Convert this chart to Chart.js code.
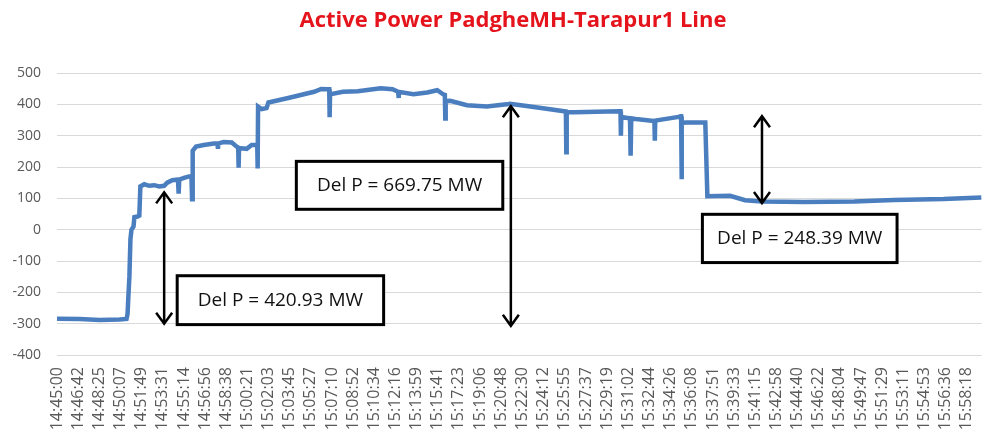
<!DOCTYPE html>
<html>
<head>
<meta charset="utf-8">
<script src="https://cdn.jsdelivr.net/npm/chart.js@4.4.1/dist/chart.umd.min.js"></script>
<style>
  html, body { margin: 0; padding: 0; background: #fff; }
  #wrap { width: 990px; height: 435px; }
</style>
</head>
<body>
<div id="wrap"><canvas id="myChart"></canvas></div>
<script>
// x axis tick labels (Excel category labels)
var tickLabels = ['14:45:00','14:46:42','14:48:25','14:50:07','14:51:49','14:53:31','14:55:14','14:56:56',
  '14:58:38','15:00:21','15:02:03','15:03:45','15:05:27','15:07:10','15:08:52','15:10:34','15:12:16',
  '15:13:59','15:15:41','15:17:23','15:19:06','15:20:48','15:22:30','15:24:12','15:25:55','15:27:37',
  '15:29:19','15:31:02','15:32:44','15:34:26','15:36:08','15:37:51','15:39:33','15:41:15','15:42:58',
  '15:44:40','15:46:22','15:48:04','15:49:47','15:51:29','15:53:11','15:54:53','15:56:36','15:58:18'];

// seconds after 14:45:00
var timeSec = [0,110,206,302,336,341,346,350,355,360,370,374,389,398,401,403,422,446,470,494,518,533,557,
  585,588,591,614,638,650,653,656,672,710,758,776,778,780,806,845,869,876,878,880,888,917,941,968,970,972,
  989,1013,1022,1118,1243,1277,1310,1316,1318,1320,1382,1454,1565,1622,1649,1651,1653,1723,1790,1838,1867,
  1875,1877,1879,1901,1982,2078,2174,2189,2270,2366,2460,2462,2464,2501,2717,2724,2726,2728,2770,2772,2774,
  2776,2798,2885,2888,2890,2892,3005,3014,3017,3019,3021,3038,3134,3144,3254,3326,3408,3614,3854,4046,4286,4469];

// active power, MW
var powerMW = [-284,-285,-288,-287,-285,-270,-200,-150,-30,0,10,40,42,45,45,138,145,140,142,138,140,150,158,
  160,115,160,165,170,170,97,252,265,270,275,275,258,275,280,278,265,262,198,260,260,258,270,270,195,393,
  385,388,406,420,440,449,448,448,359,432,440,442,451,448,440,420,440,432,438,445,432,
  430,355,410,411,397,393,400,402,395,386,377,247,375,375,378,378,300,360,355,355,236,
  355,353,347,347,284,348,360,362,362,161,340,342,342,107,108,94,90,88,90,95,98,103];

var tickSec = tickLabels.map(function(s) {
   var p = s.split(':');
   return (+p[0] - 14) * 3600 + (+p[1] - 45) * 60 + (+p[2]);
});

var delP = [
   { x: 518, top: 119, bottom: -300 },
   { x: 2194, top: 394, bottom: -307 },
   { x: 3408, top: 362, bottom: 85 }
];
var boxes = [
   { text: 'Del P = 420.93 MW', x0: 581, x1: 1579, y0: -147, y1: -303 },
   { text: 'Del P = 669.75 MW', x0: 1157, x1: 2155, y0: 218, y1: 65 },
   { text: 'Del P = 248.39 MW', x0: 3120, x1: 4061, y0: 49, y1: -105 }
];

var overlay = {
   id: 'overlay',
   afterDraw: function(chart) {
      var ctx = chart.ctx, xs = chart.scales.x, ys = chart.scales.y;
      ctx.save();
      // title
      ctx.fillStyle = '#e5141c';
      ctx.font = 'bold 22px "Open Sans"';
      ctx.textAlign = 'center';
      ctx.textBaseline = 'middle';
      ctx.fillText('Active Power PadgheMH-Tarapur1 Line', 513, 21);

      // arrows
      ctx.strokeStyle = '#000';
      ctx.lineWidth = 2.5;
      delP.forEach(function(a) {
         var x = xs.getPixelForValue(a.x), t = ys.getPixelForValue(a.top), b = ys.getPixelForValue(a.bottom);
         ctx.beginPath();
         ctx.moveTo(x, t); ctx.lineTo(x, b);
         ctx.moveTo(x - 8, t + 11); ctx.lineTo(x, t); ctx.lineTo(x + 8, t + 11);
         ctx.moveTo(x - 8, b - 11); ctx.lineTo(x, b); ctx.lineTo(x + 8, b - 11);
         ctx.stroke();
      });

      // boxes
      ctx.lineWidth = 3;
      ctx.font = '19px "Open Sans"';
      boxes.forEach(function(bx) {
         var l = xs.getPixelForValue(bx.x0), r = xs.getPixelForValue(bx.x1);
         var t = ys.getPixelForValue(bx.y0), b = ys.getPixelForValue(bx.y1);
         ctx.fillStyle = '#fff';
         ctx.fillRect(l, t, r - l, b - t);
         ctx.strokeRect(l, t, r - l, b - t);
         ctx.fillStyle = '#111';
         ctx.fillText(bx.text, (l + r) / 2, (t + b) / 2);
      });
      ctx.restore();
   }
};

const ctx = document.getElementById('myChart');
var chart = new Chart(ctx, {
   type: 'line',
   data: {
      datasets: [{
         data: timeSec.map(function(t, i) { return { x: t, y: powerMW[i] }; }),
         borderColor: '#4a7ebf',
         borderWidth: 4.5,
         pointRadius: 0,
         tension: 0,
         fill: false
      }]
   },
   options: {
      responsive: true,
      maintainAspectRatio: false,
      animation: false,
      layout: { padding: { top: 73, right: 2, left: 0, bottom: 0 } },
      plugins: { legend: { display: false }, title: { display: false }, tooltip: { enabled: false } },
      scales: {
         x: {
            type: 'linear',
            min: 0,
            max: 4470,
            grid: { display: false },
            border: { display: false },
            afterBuildTicks: function(scale) {
               scale.ticks = tickSec.map(function(v) { return { value: v }; });
            },
            afterFit: function(scale) { scale.height = 80; },
            ticks: {
               autoSkip: false,
               minRotation: 90,
               maxRotation: 90,
               padding: 4,
               color: '#595959',
               font: { family: 'Open Sans', size: 16 },
               callback: function(v, i) { return tickLabels[i]; }
            }
         },
         y: {
            min: -400,
            max: 500,
            grid: { color: '#d9d9d9', lineWidth: 1, drawTicks: false },
            border: { display: false },
            afterFit: function(scale) { scale.width = 57; },
            ticks: {
               stepSize: 100,
               padding: 16,
               color: '#595959',
               font: { family: 'Open Sans', size: 14 }
            }
         }
      }
   },
   plugins: [overlay]
});
</script>
</body>
</html>
